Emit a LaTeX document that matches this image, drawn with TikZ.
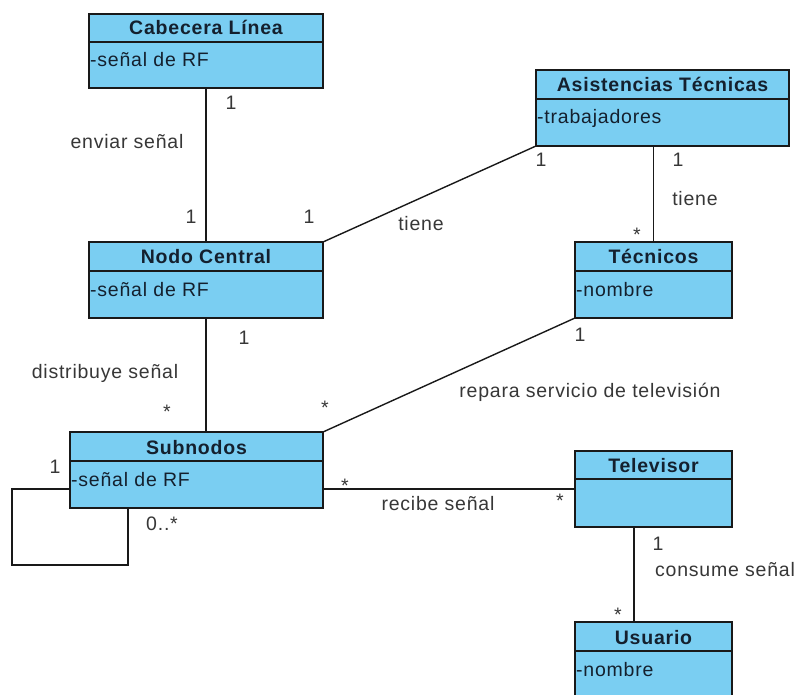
\documentclass[tikz,border=0pt]{standalone}
\usepackage{fontspec}
\setmainfont{Liberation Sans}[LetterSpace=4]
\definecolor{clsfill}{RGB}{122,206,242}
\definecolor{clstext}{RGB}{20,32,46}
\definecolor{lbltext}{RGB}{55,55,55}
\definecolor{edgecol}{RGB}{25,25,25}
\tikzset{
 cls/.style={draw=edgecol, fill=clsfill, line width=1.4pt, inner sep=0pt, outer sep=0pt},
 clsdiv/.style={draw=edgecol, line width=1.2pt},
 ctitle/.style={font=\fontsize{19.5}{22}\selectfont\bfseries, text=clstext, anchor=base, inner sep=0pt},
 cattr/.style={font=\fontsize{19.5}{22}\selectfont, text=clstext, anchor=base west, inner sep=0pt},
 assoc/.style={draw=edgecol, line width=1.4pt},
 lbl/.style={font=\fontsize{19.5}{22}\selectfont, text=lbltext, anchor=base, inner sep=0pt},
}
\newcommand\umlclass[8]{%
 \node[cls, minimum width={#4-#2}, minimum height={#5-#3}] (#1) at ({(#2+#4)/2},{(#3+#5)/2}) {};
 \draw[clsdiv] (#2,#6) -- (#4,#6);
 \node[ctitle] (#1-t) at ({(#2+#4)/2},{#6-7}) {#7};
 \node[cattr] (#1-a) at ({#2+1},{#6+25}) {#8};
}
\begin{document}
\begin{tikzpicture}[x=1pt,y=-1pt]
\useasboundingbox (0,0) rectangle (798,695);
\fill[white] (0,0) rectangle (798,695);

\umlclass{cab}{89}{14}{323}{88}{42}{Cabecera Línea}{-señal de RF}
\umlclass{asis}{536}{70}{789}{146}{99}{Asistencias Técnicas}{-trabajadores}
\umlclass{nodo}{89}{242}{323}{318}{271}{Nodo Central}{-señal de RF}
\umlclass{tec}{575}{242}{732}{318}{271}{Técnicos}{-nombre}
\umlclass{sub}{70}{432}{323}{508}{461}{Subnodos}{-señal de RF}
\umlclass{tel}{575}{451}{732}{527}{479}{Televisor}{}
\umlclass{usu}{575}{622}{732}{698}{651}{Usuario}{-nombre}

% associations
\draw[assoc] (cab.south) -- (nodo.north);
\draw[assoc] (asis.south west) -- (nodo.north east);
\draw[assoc] (tec.north) -- (tec.north |- asis.south);
\draw[assoc] (nodo.south) -- (nodo.south |- sub.north);
\draw[assoc] (tec.south west) -- (sub.north east);
\draw[assoc] (tel.west) -- (tel.west -| sub.east);
\draw[assoc] ([xshift=59pt]tel.south west) -- ([xshift=59pt]tel.south west |- usu.north);
\coordinate (loopc) at (12,565);
\draw[assoc] ([yshift=-19pt]sub.west) -| (loopc) -| ([xshift=58pt]sub.south west);

% labels
\node[lbl] (l1) at (231,110) {1};
\node[lbl] (l2) at (127,149) {enviar señal};
\node[lbl] (l3) at (191,224) {1};
\node[lbl] (l4) at (309,224) {1};
\node[lbl] (l5) at (421,231) {tiene};
\node[lbl] (l6) at (541,167) {1};
\node[lbl] (l7) at (678,167) {1};
\node[lbl] (l8) at (695,206) {tiene};
\node[lbl] (l9) at (637,242) {*};
\node[lbl] (l10) at (244,344) {1};
\node[lbl] (l11) at (105,378) {distribuye señal};
\node[lbl] (l12) at (167,418) {*};
\node[lbl] (l13) at (580,341) {1};
\node[lbl] (l14) at (590,397) {repara servicio de televisión};
\node[lbl] (l15) at (325,414) {*};
\node[lbl] (l16) at (345,492) {*};
\node[lbl] (l17) at (438,510) {recibe señal};
\node[lbl] (l18) at (560,507) {*};
\node[lbl] (l19) at (658,550) {1};
\node[lbl] (l20) at (725,576) {consume señal};
\node[lbl] (l21) at (618,621) {*};
\node[lbl] (l22) at (55,473) {1};
\node[lbl] (l23) at (162,530) {0..*};
\end{tikzpicture}
\end{document}
